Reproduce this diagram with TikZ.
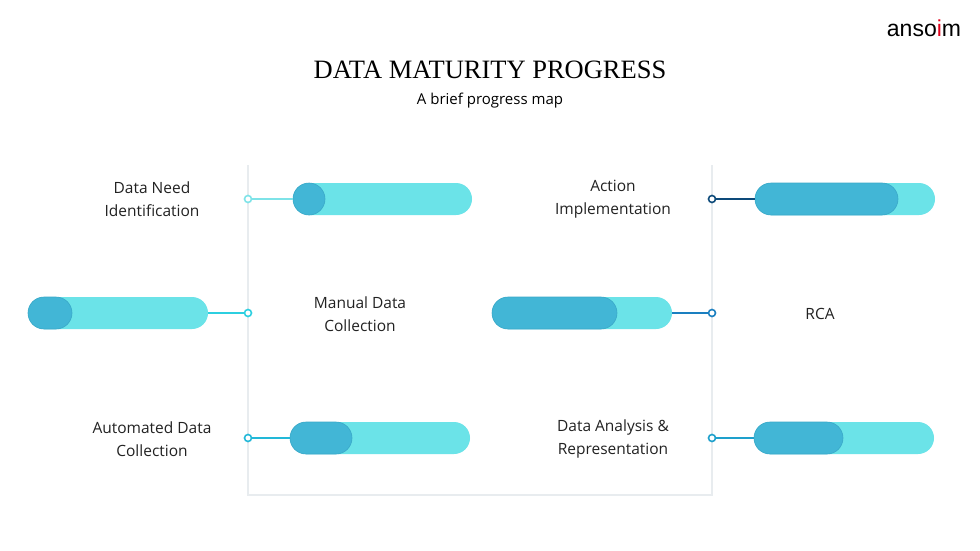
\documentclass[tikz,border=0pt]{standalone}
\usepackage{fontspec}
\setmainfont{Open Sans}
\newfontfamily\titlefont{Liberation Serif}
\newfontfamily\logofont{Liberation Sans}
\definecolor{light}{HTML}{6BE3E8}
\definecolor{dark}{HTML}{42B6D6}
\definecolor{darkb}{HTML}{3AA8C8}
\definecolor{frame}{HTML}{E8ECEF}
\definecolor{cA}{HTML}{7EE3E8}
\definecolor{cB}{HTML}{2CCFE0}
\definecolor{cC}{HTML}{22B8D8}
\definecolor{cD}{HTML}{0D4A7A}
\definecolor{cE}{HTML}{1A7FC0}
\definecolor{cF}{HTML}{1EA0CC}
\definecolor{txt}{HTML}{222222}
\definecolor{logored}{HTML}{E3001B}
\begin{document}
\begin{tikzpicture}[x=1pt,y=-1pt,
  lbl/.style={font=\fontsize{15.5}{23}\selectfont, text=txt, align=center},
  dot/.style={circle, draw=#1, line width=1.6pt, fill=white, inner sep=0pt, minimum size=7pt},
  conn/.style={line width=2pt, draw=#1}]
\useasboundingbox (0,0) rectangle (980,551);
\fill[white] (0,0) rectangle (980,551);
\node (logo) at (924,28) {\logofont\fontsize{23}{26}\selectfont anso\textcolor{logored}{i}m};
\node (title) at (490,70) {\titlefont\fontsize{26.5}{30}\selectfont DATA MATURITY PROGRESS};
\node (sub) at (490,101) {\fontsize{15}{18}\selectfont A brief progress map};
\draw[frame, line width=2.5pt] (248,165) -- (248,495) -- (712,495) -- (712,165);
\newcommand\pbar[4]{%
  \fill[light, rounded corners=16pt] (#1,#4-16) rectangle (#2,#4+16);
  \fill[dark, rounded corners=16pt] (#1,#4-16) rectangle (#3,#4+16);
  \draw[darkb, line width=0.6pt, rounded corners=16pt] (#1,#4-16) rectangle (#3,#4+16);}
\pbar{293}{472}{325}{199}
\pbar{755}{935}{898}{199}
\pbar{28}{208}{72}{313}
\pbar{492}{672}{617}{313}
\pbar{290}{470}{352}{438}
\pbar{754}{934}{843}{438}
\coordinate (b1) at (293,199); \coordinate (b2) at (755,199);
\coordinate (b3) at (208,313); \coordinate (b4) at (672,313);
\coordinate (b5) at (290,438); \coordinate (b6) at (754,438);
\node[dot=cA] (d1) at (248,199) {};
\node[dot=cD] (d2) at (712,199) {};
\node[dot=cB] (d3) at (248,313) {};
\node[dot=cE] (d4) at (712,313) {};
\node[dot=cC] (d5) at (248,438) {};
\node[dot=cF] (d6) at (712,438) {};
\draw[conn=cA] (d1) -- (b1);
\draw[conn=cD] (d2) -- (b2);
\draw[conn=cB] (d3) -- (b3);
\draw[conn=cE] (d4) -- (b4);
\draw[conn=cC] (d5) -- (b5);
\draw[conn=cF] (d6) -- (b6);
\node[lbl] (l1) at (152,199) {Data Need\\Identification};
\node[lbl] (l2) at (613,199) {Action\\Implementation};
\node[lbl] (l3) at (360,314) {Manual Data\\Collection};
\node[lbl] (l4) at (820,314) {RCA};
\node[lbl] (l5) at (152,439) {Automated Data\\Collection};
\node[lbl] (l6) at (613,439) {Data Analysis \&\\Representation};
\end{tikzpicture}
\end{document}
